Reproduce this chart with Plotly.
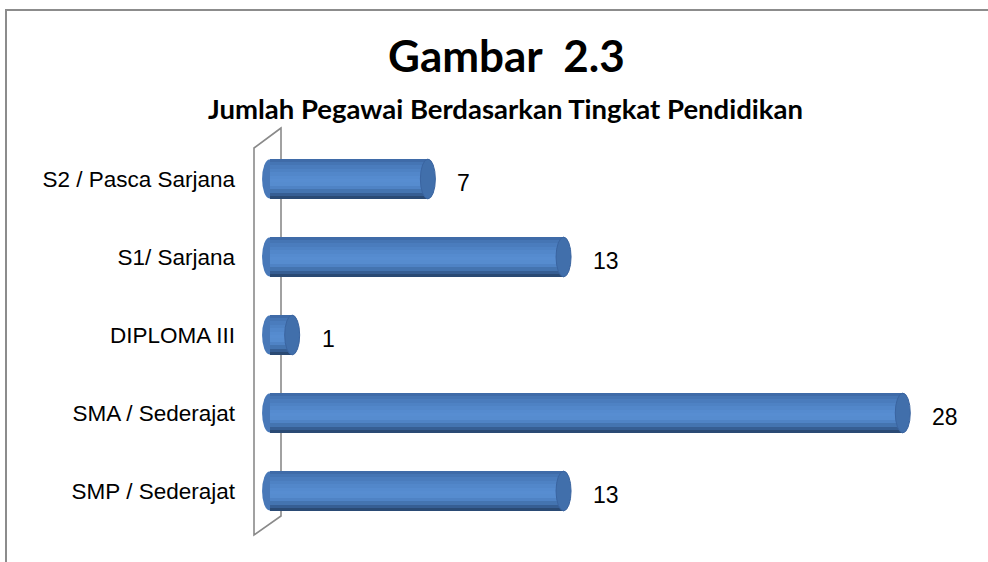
import plotly.graph_objects as go

categories = ["S2 / Pasca Sarjana", "S1/ Sarjana", "DIPLOMA III", "SMA / Sederajat", "SMP / Sederajat"]
values = [7, 13, 1, 28, 13]
title_text = "<b>Gambar  2.3</b>"
subtitle_text = "<b>Jumlah Pegawai Berdasarkan Tingkat Pendidikan</b>"

# ---- layout geometry (pixels) ----
W, H = 988, 562
ML, MR, MT, MB = 256, 40, 140, 32
PW, PH = W - ML - MR, H - MT - MB
XMIN, XMAX = -0.6, 30
PXU = PW / (XMAX - XMIN)

def px(xp):
    return (xp - ML) / PW

def py(yp):
    return (H - MB - yp) / PH

BAR_W = 0.52
band_colors = ['#3f6ba8', '#4575b4', '#4a7cbd', '#4e82c4', '#5287ca', '#558bcf',
               '#578dd1', '#568ccf', '#4f83c5', '#4474b0', '#365e93', '#2a4a74']
n = len(band_colors)
bw = BAR_W / n

fig = go.Figure()
for k, c in enumerate(band_colors):
    wk = bw * 1.7 if k < n - 1 else bw
    fig.add_trace(go.Bar(
        y=categories, x=values, orientation='h',
        width=wk, offset=-BAR_W / 2 + k * bw,
        marker=dict(color=c, line=dict(width=0)),
        hoverinfo='skip', showlegend=False,
    ))

RX = 7.5 / PXU
shapes = []
for i, v in enumerate(values):
    # rounded front (left) edge
    shapes.append(dict(type='circle', xref='x', yref='y', layer='below',
                       x0=-RX, x1=RX, y0=i - BAR_W / 2 + 0.01, y1=i + BAR_W / 2 - 0.01,
                       fillcolor='#4878b8', line=dict(width=0)))
    # end cap
    shapes.append(dict(type='circle', xref='x', yref='y', layer='above',
                       x0=v - RX, x1=v + RX, y0=i - BAR_W / 2 + 0.005, y1=i + BAR_W / 2 - 0.005,
                       fillcolor='#416fab', line=dict(width=1, color='#3a64a0')))

wall = dict(color='#8a8a8a', width=1.6)
# back wall of the 3D chart
shapes.append(dict(type='path', xref='paper', yref='paper', layer='below',
                   path=f"M {px(281)} {py(128)} L {px(254)} {py(148)} L {px(254)} {py(535)} L {px(281)} {py(516)} Z",
                   line=wall))
# chart border
shapes.append(dict(type='path', xref='paper', yref='paper', layer='below',
                   path=f"M {px(6)} {py(570)} L {px(6)} {py(10)} L {px(995)} {py(10)}",
                   line=dict(color='#8c8c8c', width=2)))

annotations = [
    dict(text=title_text, xref='paper', yref='paper', x=px(506), y=py(55),
         xanchor='center', yanchor='middle',
         showarrow=False, font=dict(family='Lato, Carlito, sans-serif', size=44, color='black')),
    dict(text=subtitle_text, xref='paper', yref='paper', x=px(505), y=py(108),
         xanchor='center', yanchor='middle',
         showarrow=False, font=dict(family='Lato, Carlito, sans-serif', size=27.5, color='black')),
]
for i, v in enumerate(values):
    annotations.append(dict(text=str(v), x=v, y=categories[i], xref='x', yref='y',
                            xanchor='left', yanchor='middle', xshift=RX * PXU + 20, yshift=-4,
                            showarrow=False,
                            font=dict(family='Liberation Sans, Arial, sans-serif', size=23, color='black')))

fig.update_layout(
    width=W, height=H,
    margin=dict(l=ML, r=MR, t=MT, b=MB, pad=0),
    paper_bgcolor='white', plot_bgcolor='white',
    barmode='overlay', bargap=0,
    shapes=shapes, annotations=annotations,
    xaxis=dict(range=[XMIN, XMAX], visible=False, showgrid=False, zeroline=False),
    yaxis=dict(categoryorder='array', categoryarray=categories, autorange='reversed',
               showgrid=False, zeroline=False, showline=False, ticks='',
               ticklabelstandoff=20,
               tickfont=dict(family='Liberation Sans, Arial, sans-serif', size=22.5, color='black')),
)
fig.write_html("out.html", config={'displayModeBar': False},
               post_script="document.body.style.margin='0';document.body.style.overflow='hidden';")
